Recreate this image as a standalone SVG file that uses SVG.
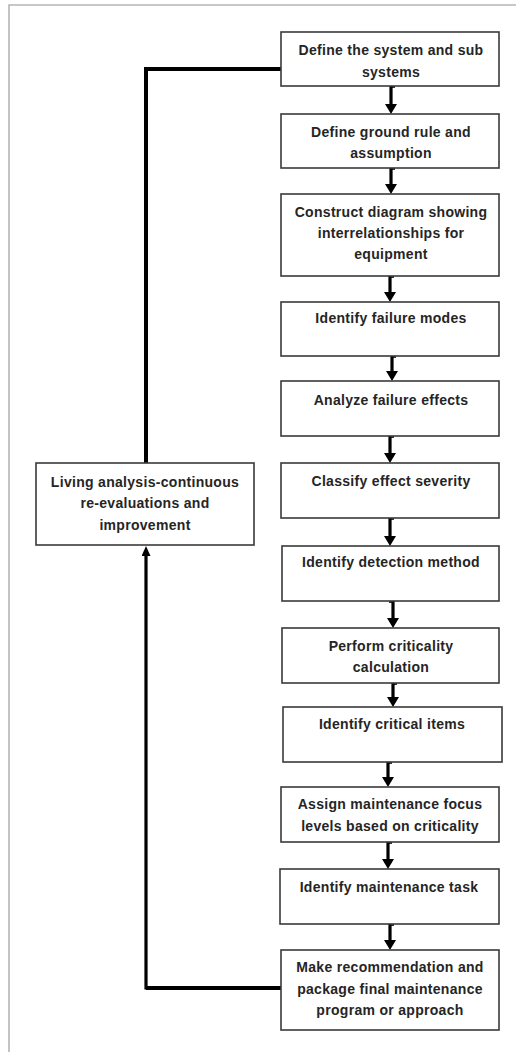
<svg xmlns="http://www.w3.org/2000/svg" width="516" height="1052" viewBox="0 0 516 1052">
<style>
.box{fill:#fff;stroke:#3a3a3a;stroke-width:1.6}
.t{font-family:"Liberation Sans",Arial,sans-serif;font-weight:bold;font-size:14px;letter-spacing:0.3px;fill:#252525;text-anchor:middle}
.ar{fill:none;stroke:#000;stroke-width:3.2;marker-end:url(#ah)}
.stub{fill:none;stroke:#000;stroke-width:1.6}
.fb{fill:none;stroke:#000;stroke-width:4}
</style>
<defs>
<marker id="ah" markerUnits="userSpaceOnUse" markerWidth="14" markerHeight="14" refX="4" refY="6" orient="auto">
<path d="M0,0 L10,6 L0,12 z" fill="#000"/>
</marker>
<marker id="ah2" markerUnits="userSpaceOnUse" markerWidth="12" markerHeight="12" refX="3" refY="4.5" orient="auto">
<path d="M0,0 L10,4.5 L0,9 z" fill="#000"/>
</marker>
</defs>
<rect x="0" y="0" width="516" height="1052" fill="#fff"/>
<path d="M9,1052 V5 H520" fill="none" stroke="#b5b5b5" stroke-width="1.6"/>

<g id="connectors">
<path class="fb" d="M281,69 H146 V463"/>
<path d="M281,988 H146 V553" fill="none" stroke="#000" stroke-width="3.2" marker-end="url(#ah2)"/>
<path class="fb" d="M281,988 H146"/>
<path class="ar" d="M391,86 V108"/><path class="stub" d="M391,87 h4"/>
<path class="ar" d="M391,168 V188"/><path class="stub" d="M391,169 h4"/>
<path class="ar" d="M390,276 V296"/><path class="stub" d="M390,277 h4"/>
<path class="ar" d="M392,356 V375"/><path class="stub" d="M392,357 h4"/>
<path class="ar" d="M390,436 V457"/><path class="stub" d="M390,437 h4"/>
<path class="ar" d="M390,518 V540"/><path class="stub" d="M390,519 h4"/>
<path class="ar" d="M393,601 V622"/><path class="stub" d="M393,602 h-4"/>
<path class="ar" d="M393,683 V701"/><path class="stub" d="M393,684 h4"/>
<path class="ar" d="M388,762 V781"/><path class="stub" d="M388,763 h4"/>
<path class="ar" d="M388,842 V863"/><path class="stub" d="M388,843 h4"/>
<path class="ar" d="M390,924 V944"/><path class="stub" d="M390,925 h4"/>
</g>

<g id="n1"><rect class="box" x="281" y="32" width="218" height="54"/>
<text class="t" x="391" y="55">Define the system and sub</text><text class="t" x="391" y="77">systems</text></g>
<g id="n2"><rect class="box" x="281" y="114" width="218" height="54"/>
<text class="t" x="391" y="137">Define ground rule and</text><text class="t" x="391" y="158">assumption</text></g>
<g id="n3"><rect class="box" x="281" y="194" width="218" height="82"/>
<text class="t" x="391" y="217">Construct diagram showing</text><text class="t" x="391" y="238">interrelationships for</text><text class="t" x="391" y="259">equipment</text></g>
<g id="n4"><rect class="box" x="281" y="302" width="218" height="54"/>
<text class="t" x="391" y="323">Identify failure modes</text></g>
<g id="n5"><rect class="box" x="281" y="381" width="218" height="55"/>
<text class="t" x="391" y="405">Analyze failure effects</text></g>
<g id="n6"><rect class="box" x="281" y="463" width="218" height="55"/>
<text class="t" x="391" y="486">Classify effect severity</text></g>
<g id="n7"><rect class="box" x="282" y="546" width="217" height="55"/>
<text class="t" x="391" y="567">Identify detection method</text></g>
<g id="n8"><rect class="box" x="282" y="628" width="217" height="55"/>
<text class="t" x="391" y="651">Perform criticality</text><text class="t" x="391" y="672">calculation</text></g>
<g id="n9"><rect class="box" x="283" y="707" width="219" height="55"/>
<text class="t" x="392" y="729">Identify critical items</text></g>
<g id="n10"><rect class="box" x="281" y="787" width="218" height="55"/>
<text class="t" x="390" y="809">Assign maintenance focus</text><text class="t" x="390" y="831">levels based on criticality</text></g>
<g id="n11"><rect class="box" x="280" y="869" width="219" height="55"/>
<text class="t" x="389" y="892">Identify maintenance task</text></g>
<g id="n12"><rect class="box" x="281" y="950" width="218" height="80"/>
<text class="t" x="390" y="972">Make recommendation and</text><text class="t" x="390" y="994">package final maintenance</text><text class="t" x="390" y="1015">program or approach</text></g>
<g id="n13"><rect class="box" x="36" y="463" width="218" height="82"/>
<text class="t" x="145" y="487">Living analysis-continuous</text><text class="t" x="145" y="508">re-evaluations and</text><text class="t" x="145" y="530">improvement</text></g>
</svg>
